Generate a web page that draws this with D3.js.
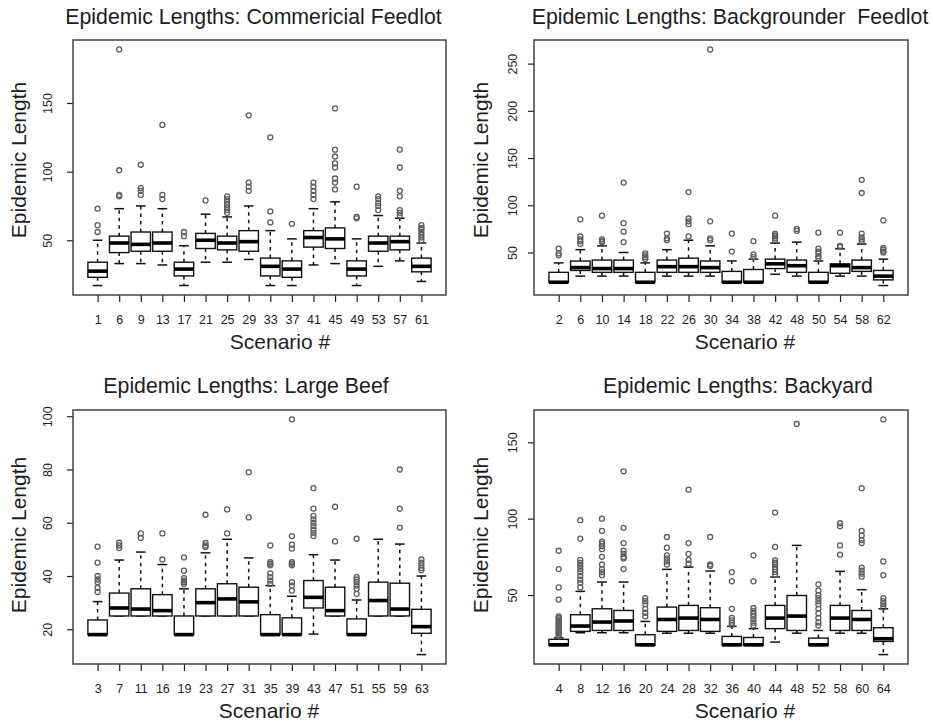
<!DOCTYPE html>
<html><head><meta charset="utf-8">
<script src="https://cdn.jsdelivr.net/npm/d3@7"></script>
<style>
body{margin:0;background:#fff}
svg{display:block}
text{font-family:"Liberation Sans",Arial,Helvetica,sans-serif;fill:#1e1e1e}
</style>
</head><body>
<svg id="c" width="933" height="723"></svg>
<script>
// ---------- Panel 1: Commericial Feedlot ----------
const cfScenarios = [1,6,9,13,17,21,25,29,33,37,41,45,49,53,57,61];
const cfLow  = [17,33,33,32,17,34,34,36,17,17,32,33,17,31,35,20];
const cfQ1   = [23,41,42,42,24,44,43,42,24,23,45,44,24,42,43,27];
const cfMed  = [27.5,48,47,48,29,50,48,49,31,29,52,51,29,48,49,31];
const cfQ3   = [34,53,56,56,34,55,53,57,37,35,57,59,35,53,53,37];
const cfHigh = [50,73,75,73,46,69,67,75,57,51,73,78,51,68,66,48];
const cfOut  = [[73,61,56],[189,101,83,82],[105,88,86,83],[134,83,80],[56,53],[79],
  [82,80,78,76,74,72,70],[141,92,89,86],[125,71,63],[62],[92,89,86,83,80],
  [146,116,111,106,103,95,92,87],[89,67,66],[82,80,77,75,72],[116,103,86,82,72,70,68],
  [61,59,58,56,54,52,50]];
const cfTicks = [50,100,150];

// ---------- Panel 2: Backgrounder Feedlot ----------
const bfScenarios = [2,6,10,14,18,22,26,30,34,38,42,48,50,54,58,62];
const bfLow  = [18.5,25,25,25,18.5,25,25,25,18.5,18.5,27,25,18.5,25,25,15];
const bfQ1   = [18.5,31,29,29,18.5,29,29,29,18.5,18.5,33,29,18.5,28,30,21];
const bfMed  = [18.5,34,33,33,18.5,35,35,34,18.5,18.5,38,36,18.5,36,34,25];
const bfQ3   = [29,41,42,42,29,42,44,41,30,32,43,42,29,38,42,31];
const bfHigh = [39,53,57,50,39,53,63,57,41,43,60,61,41,54,59,43];
const bfOut  = [[54,49,47],[85,67,64,62,59],[89,64,62,61],[124,81,72,61],[49,47,45,43],
  [70,65,63],[114,86,83,80,67],[265,83,65,63],[70,51],[62,48,45],[89,70,68,67,65,63],
  [75,73],[71,54,51,49,46,44],[71,57,56],[127,113,70,66,64,62],[84,55,53,51,50]];
const bfTicks = [50,100,150,200,250];

// ---------- Panel 3: Large Beef ----------
const lbScenarios = [3,7,11,16,19,23,27,31,35,39,43,47,51,55,59,63];
const lbLow  = [18,25,25,25,18,25,25,25,18,18,18.2,25,18,25,25,10.5];
const lbQ1   = [18,25,25,25,18,25,25,25,18,18,28,25,18,25,25,18.5];
const lbMed  = [18,28,27.6,27,18,30,31.4,30.3,18,18,32,27,18,30.8,27.6,21];
const lbQ3   = [23.5,33.6,35.2,33,25,35.2,37.1,35.8,25.5,24.3,38.3,35.8,23.9,37.7,37.3,27.5];
const lbHigh = [30.4,46,49,44.3,35.2,48.7,53.8,46.8,36.4,32.4,48,46,31,53.8,52,40];
const lbOut  = [[51,45,40,38.7,37.7,35.6,34],[52.5,51.5,50.5],[56,54.3],[56,46.2],
  [47,42,39.2,38.3,37.7,37],[63,52.4,51.5,50.9],[65,56],[79,62],
  [51.5,45.2,44.6,44,41,39.6,38.3,37],[98.8,55,51.8,50.3,45.2,44.6,44,37.7,36.4,34.5],
  [73,65.3,62.6,61.3,60,58.8,57.4,56.2,55],[66,53],[54,39.6,38.7,37.7,36.4,35.2,33.3],
  [],[80,65.3,58.2],[46.2,45,44,43,42.2]];
const lbTicks = [20,40,60,80,100];

// ---------- Panel 4: Backyard ----------
const byScenarios = [4,8,12,16,20,24,28,32,36,40,44,48,52,58,60,64];
const byLow  = [17,25.3,25.3,25.3,17,25,25,25,17,17,19.2,25,17,25,25,11];
const byQ1   = [17,26.2,26.8,26.8,17,26.2,26.8,26.2,17,17,28,26.8,17,26.8,26.8,19.6];
const byMed  = [17.4,29.7,32.3,33,17.4,34,34.9,34,17.4,17.4,34.9,36.2,17.4,34.9,34,21.4];
const byQ3   = [21,37.1,41,39.9,24,42.1,43.2,41.7,22.9,22.2,43.2,49.7,21.8,43.2,39.9,28.6];
const byHigh = [22,52.4,58.5,58.5,32.7,66.8,68.3,65.7,29.5,28,61.8,82.5,26.8,65.5,53.5,41];
const byOut  = [[79,67,55,47,36,35,34,33,32,31,30,29,28,27,26,25,24,23],
  [99,87,73,71,69,67,65,62.5,60,58,55],[100,92,85,83.6,82,80,75,70,67,65,63],
  [131,94,84,79,77,75,74,67],[48,46,44,41,38.4,36],[88,81,76,74,72,70],
  [119,84,77,73,70.5],[88,70,69],[65,59,41,35,33.4,31.8,30.5],
  [76,59,41.5,39.5,37.7,36,34,31.8,30],[104,81.5,72.7,71.2,70,68.3,66.8,65.1,63.5],
  [162],[57,53,50,48,46,44,41,38,35,32,30],[97,95,82.5,76.4],
  [120,92,89,86,84,68,66,64,62],[165,72,63,48,46,44,42]];
const byTicks = [50,100,150];

const titles = ["Epidemic Lengths: Commericial Feedlot","Epidemic Lengths: Backgrounder\u00a0 Feedlot",
                "Epidemic Lengths: Large Beef","Epidemic Lengths: Backyard"];

const panels = [
  {title:titles[0], scen:cfScenarios, low:cfLow, q1:cfQ1, med:cfMed, q3:cfQ3, high:cfHigh, out:cfOut, ticks:cfTicks},
  {title:titles[1], scen:bfScenarios, low:bfLow, q1:bfQ1, med:bfMed, q3:bfQ3, high:bfHigh, out:bfOut, ticks:bfTicks},
  {title:titles[2], scen:lbScenarios, low:lbLow, q1:lbQ1, med:lbMed, q3:lbQ3, high:lbHigh, out:lbOut, ticks:lbTicks},
  {title:titles[3], scen:byScenarios, low:byLow, q1:byQ1, med:byMed, q3:byQ3, high:byHigh, out:byOut, ticks:byTicks}
];

// layout (positions only)
const layout = [
  {x0:73, x1:446, y0:40, y1:295, titleX:253.5, titleY:24, xlabX:280, ylabX:18.5, ylabY:160, tickLabX:48},
  {x0:534,x1:908, y0:40, y1:295, titleX:730,   titleY:24, xlabX:745, ylabX:480,  ylabY:160, tickLabX:513},
  {x0:73, x1:446, y0:410,y1:664, titleX:246,   titleY:393,xlabX:269, ylabX:18.5, ylabY:535, tickLabX:48},
  {x0:534,x1:908, y0:410,y1:664, titleX:738,   titleY:393,xlabX:745, ylabX:480,  ylabY:535, tickLabX:513}
];

const svg = d3.select("#c");

panels.forEach((p, k) => {
  const L = layout[k];
  const n = p.scen.length;
  const ext = 0.04 * n;
  const x = d3.scaleLinear().domain([0.5 - ext, n + 0.5 + ext]).range([L.x0, L.x1]);
  const allVals = p.low.concat(p.high, p.out.flat());
  const lo = d3.min(allVals), hi = d3.max(allVals), r = hi - lo;
  const y = d3.scaleLinear().domain([lo - 0.04 * r, hi + 0.04 * r]).range([L.y1, L.y0]);
  const g = svg.append("g");
  const bw = (x(2) - x(1)) * 0.9;

  g.append("text").attr("x", L.titleX).attr("y", L.titleY).attr("text-anchor","middle")
    .attr("font-size", "21.3px").text(p.title);

  const xa = d3.axisBottom(x).tickValues(d3.range(1, n + 1)).tickFormat(i => p.scen[i - 1]).tickSize(7).tickSizeOuter(0);
  const gx = g.append("g").attr("transform", `translate(0,${L.y1})`).call(xa);
  gx.select(".domain").remove();
  gx.selectAll(".tick line").attr("stroke", "#222").attr("stroke-width", 1.2);
  gx.selectAll(".tick text").attr("y", 28.5).attr("dy", 0).attr("font-size", "12.5px")
    .attr("fill", "#1e1e1e").attr("font-family", null);

  const ya = d3.axisLeft(y).tickValues(p.ticks).tickSize(6).tickSizeOuter(0);
  const gy = g.append("g").attr("transform", `translate(${L.x0},0)`).call(ya);
  gy.select(".domain").remove();
  gy.selectAll(".tick line").attr("stroke", "#222").attr("stroke-width", 1.2);
  gy.selectAll(".tick text").attr("transform", "rotate(-90)").attr("x", 0).attr("y", -(L.x0 - L.tickLabX))
    .attr("dy", 0).attr("text-anchor", "middle").attr("dominant-baseline", "central")
    .attr("font-size", "12.5px").attr("fill", "#1e1e1e").attr("font-family", null);

  g.append("text").attr("x", L.xlabX).attr("y", L.y1 + 54).attr("text-anchor","middle")
    .attr("font-size","21px").text("Scenario #");
  g.append("text").attr("transform", `translate(${L.ylabX},${L.ylabY}) rotate(-90)`)
    .attr("text-anchor","middle").attr("dominant-baseline","central")
    .attr("font-size","21px").text("Epidemic Length");

  const idx = d3.range(n);
  const bx = g.append("g");
  idx.forEach(i => {
    const cx = x(i + 1);
    bx.append("line").attr("x1", cx).attr("x2", cx).attr("y1", y(p.q3[i])).attr("y2", y(p.high[i]))
      .attr("stroke", "#111").attr("stroke-width", 1.5).attr("stroke-dasharray", "3.5,4");
    bx.append("line").attr("x1", cx).attr("x2", cx).attr("y1", y(p.q1[i])).attr("y2", y(p.low[i]))
      .attr("stroke", "#111").attr("stroke-width", 1.5).attr("stroke-dasharray", "3.5,4");
    [p.high[i], p.low[i]].forEach(v => {
      bx.append("line").attr("x1", cx - bw / 4).attr("x2", cx + bw / 4).attr("y1", y(v)).attr("y2", y(v))
        .attr("stroke", "#111").attr("stroke-width", 1.5);
    });
    bx.append("rect").attr("x", cx - bw / 2).attr("width", bw)
      .attr("y", y(p.q3[i])).attr("height", Math.max(0, y(p.q1[i]) - y(p.q3[i])))
      .attr("fill", "#fff").attr("stroke", "#111").attr("stroke-width", 1.4);
    bx.append("line").attr("x1", cx - bw / 2).attr("x2", cx + bw / 2).attr("y1", y(p.med[i])).attr("y2", y(p.med[i]))
      .attr("stroke", "#000").attr("stroke-width", 3.6);
    p.out[i].forEach(v => {
      bx.append("circle").attr("cx", cx).attr("cy", y(v)).attr("r", 2.5)
        .attr("fill", "none").attr("stroke", "#5e5e5e").attr("stroke-width", 1.3);
    });
  });

  g.append("rect").attr("x", L.x0).attr("y", L.y0).attr("width", L.x1 - L.x0).attr("height", L.y1 - L.y0)
    .attr("fill", "none").attr("stroke", "#444").attr("stroke-width", 1.5);
});
</script>
</body></html>
